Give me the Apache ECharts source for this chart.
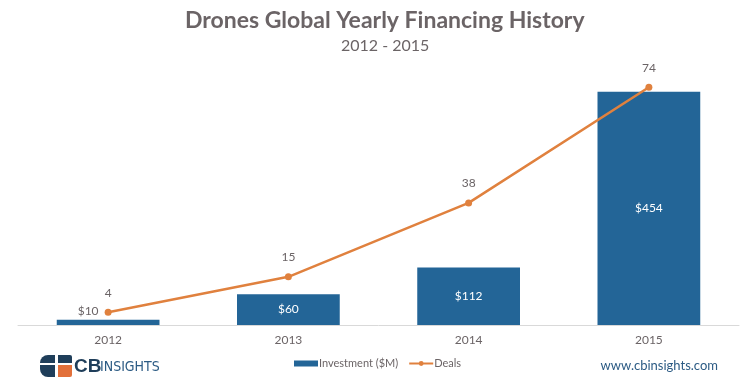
<!DOCTYPE html>
<html><head><meta charset="utf-8">
<script src="https://cdn.jsdelivr.net/npm/echarts@6/dist/echarts.min.js"></script>
<style>html,body{margin:0;padding:0;background:#fff}#c{width:742px;height:392px}</style>
</head><body><div id="c"></div>
<script>
const years = ['2012', '2013', '2014', '2015'];
const investment = [10, 60, 112, 454];
const deals = [4, 15, 38, 74];
const investLabels = ['$10', '$60', '$112', '$454'];

const chart = echarts.init(document.getElementById('c'));
const font = 'Lato, "Open Sans", sans-serif';
chart.setOption({
  backgroundColor: '#ffffff',
  animation: false,
  title: [
    { text: 'Drones Global Yearly Financing History', left: 180, top: 4,
      textStyle: { fontFamily: font, fontSize: 23, fontWeight: 'bold', color: '#6b6466' } },
    { text: '2012 - 2015', left: 336, top: 33,
      textStyle: { fontFamily: font, fontSize: 16, fontWeight: 'normal', color: '#6b6466' } }
  ],
  legend: {
    bottom: 18, left: 289, itemGap: 10, itemWidth: 24, itemHeight: 6,
    textStyle: { fontFamily: font, fontSize: 11, color: '#6b6466', padding: [0, 0, 0, -4] },
    data: [
      { name: 'Investment ($M)', icon: 'rect' },
      { name: 'Deals' }
    ]
  },
  grid: { left: 18, right: 3, top: 68, bottom: 67 },
  xAxis: {
    type: 'category', data: years,
    axisLine: { show: true, lineStyle: { color: '#d9d9d9', width: 1 } },
    axisTick: { show: false },
    axisLabel: { fontFamily: font, fontSize: 12, color: '#6b6466', margin: 9 }
  },
  yAxis: [
    { type: 'value', min: 0, max: 500, show: false, splitLine: { show: false } },
    { type: 'value', min: 0, max: 80, show: false, splitLine: { show: false } }
  ],
  series: [
    {
      name: 'Investment ($M)', type: 'bar', yAxisIndex: 0, barWidth: '57%',
      itemStyle: { color: '#236597' },
      data: investment.map((v, i) => i === 0 ? {
        value: v,
        label: { position: 'top', offset: [-20, 2], color: '#6b6466' }
      } : v),
      label: {
        show: true, position: 'inside', color: '#ffffff',
        fontFamily: font, fontSize: 12,
        formatter: p => investLabels[p.dataIndex]
      },
      z: 2
    },
    {
      name: 'Deals', type: 'line', yAxisIndex: 1, data: deals,
      symbol: 'circle', symbolSize: 7,
      lineStyle: { color: '#e0813e', width: 2.5 },
      itemStyle: { color: '#e0813e' },
      label: { show: true, position: 'top', distance: 10, color: '#6b6466', fontFamily: font, fontSize: 12 },
      z: 3
    }
  ],
  graphic: [
    { type: 'rect', shape: { x: 40, y: 355, width: 23, height: 22, r: [8, 2, 2, 8] }, style: { fill: '#1f3e5a' } },
    { type: 'rect', shape: { x: 58, y: 355, width: 14, height: 8, r: [0, 2, 0, 0] }, style: { fill: '#1f3e5a' } },
    { type: 'rect', shape: { x: 58, y: 365, width: 14, height: 12, r: [0, 0, 2, 0] }, style: { fill: '#e2703a' } },
    { type: 'rect', shape: { x: 55, y: 355, width: 3, height: 22 }, style: { fill: '#ffffff' } },
    { type: 'rect', shape: { x: 40, y: 363, width: 32, height: 2 }, style: { fill: '#ffffff' } },
    { type: 'text', left: 74, top: 357, style: { text: 'CB', fontFamily: 'Arial, sans-serif', fontSize: 19, fontWeight: 'bold', fill: '#1f3e5a' } },
    { type: 'text', left: 100, top: 360, style: { text: 'INSIGHTS', fontFamily: '"DejaVu Sans Condensed", Arial, sans-serif', fontSize: 14, fill: '#2c5b84' } },
    { type: 'text', right: 24, top: 359, style: { text: 'www.cbinsights.com', fontFamily: font, fontSize: 13, fill: '#2c5b84' } }
  ]
});
</script></body></html>
